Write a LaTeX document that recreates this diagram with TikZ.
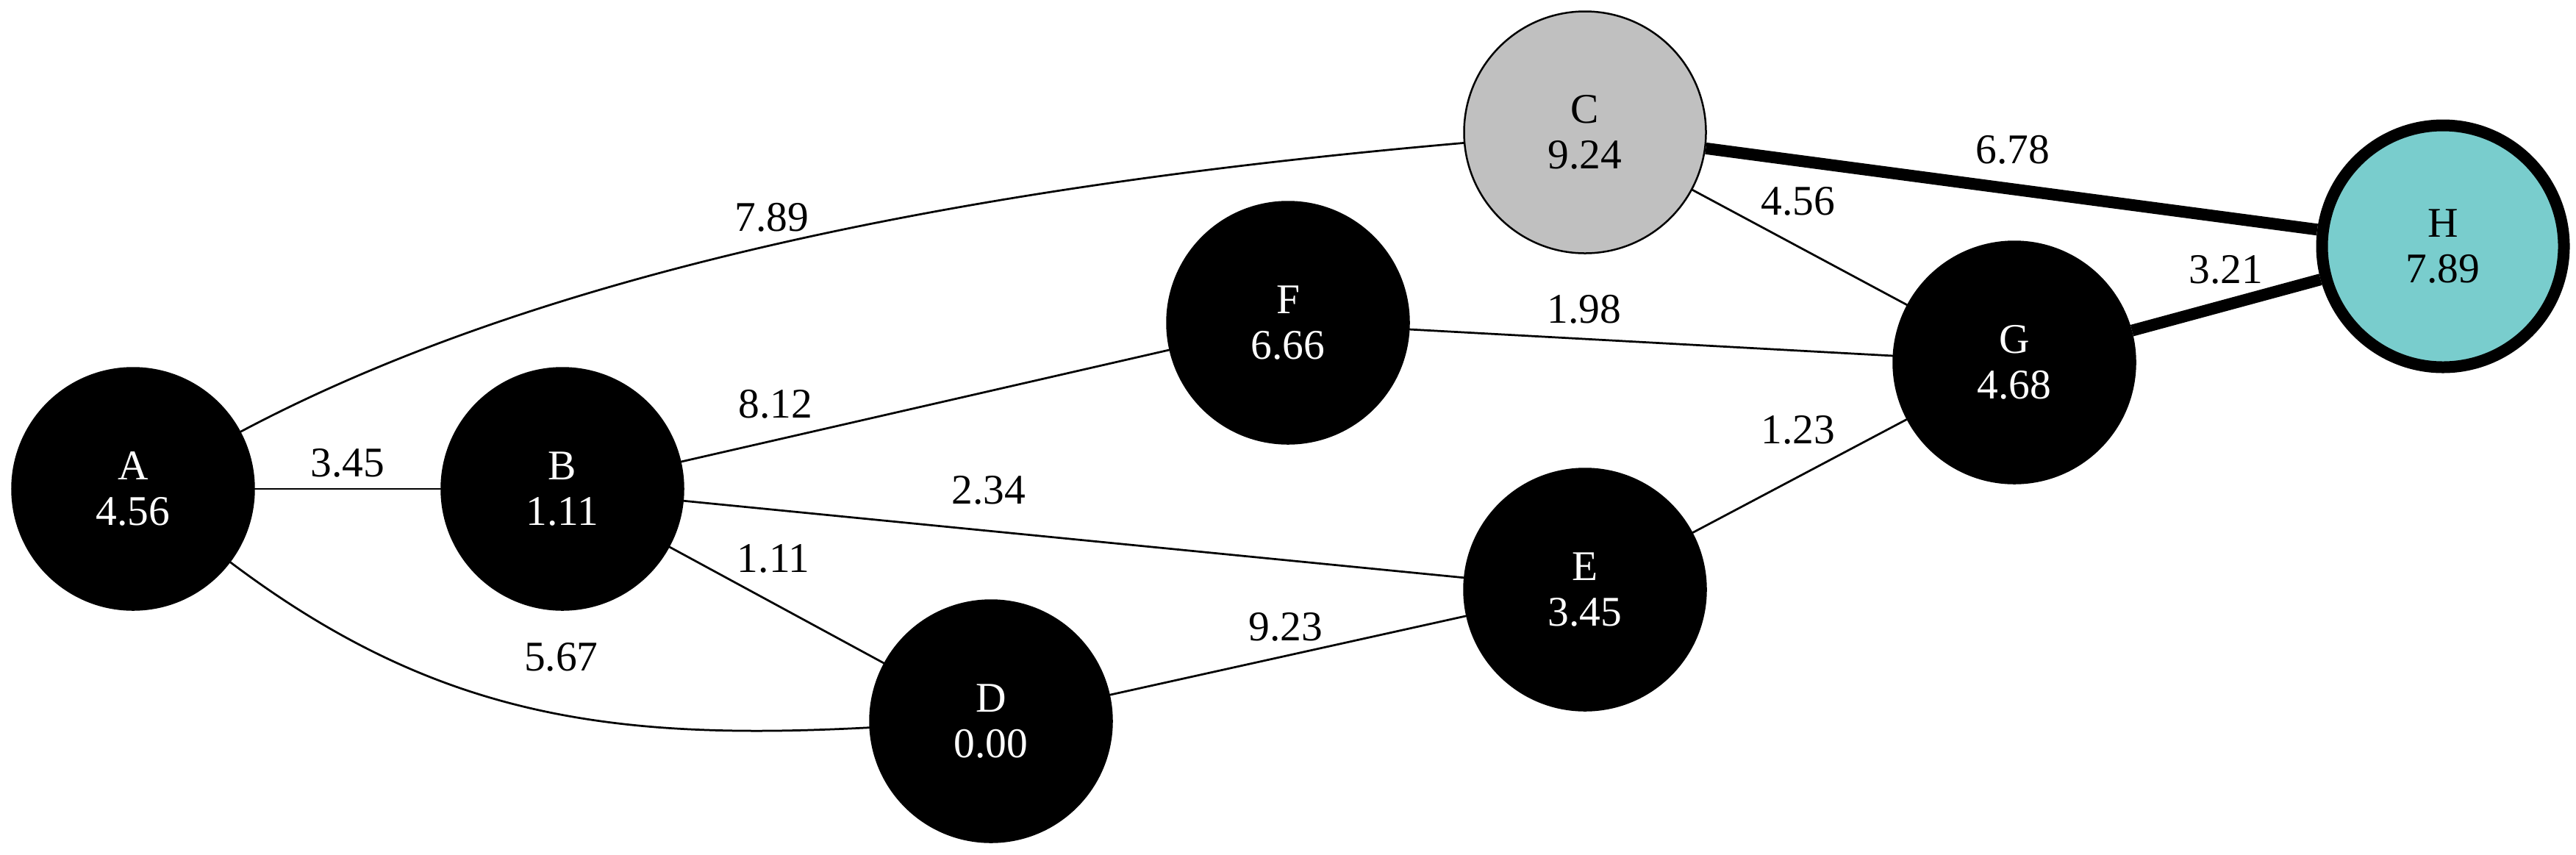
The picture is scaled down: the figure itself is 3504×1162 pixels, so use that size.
\documentclass[tikz,border=0pt]{standalone}
\usepackage{fontspec}
\setmainfont{Liberation Serif}
\usepackage{tikz}
\definecolor{cccccc}{rgb}{0.753,0.753,0.753}
\definecolor{qqcccc}{rgb}{0.475,0.804,0.804}
\tikzset{
  vertex/.style={circle,draw=black,line width=0.5pt,minimum size=65.8pt,inner sep=0pt,align=center,font=\fontsize{11.5}{12.4}\selectfont},
  blackvertex/.style={vertex,fill=black,text=white},
  grayvertex/.style={vertex,fill=cccccc},
  goalvertex/.style={vertex,fill=qqcccc,line width=3.2pt},
  edge/.style={line width=0.55pt},
  heavyedge/.style={line width=3.2pt,line cap=butt},
  weight/.style={font=\fontsize{11.5}{12.4}\selectfont,inner sep=0pt}
}
\begin{document}
\begin{tikzpicture}[line cap=round,line join=round,x=0.2pt,y=-0.2pt]
		\useasboundingbox (0,0) rectangle (3504,1162);
		\node[blackvertex] (A) at (181,665) {A\\4.56};
		\node[blackvertex] (B) at (765,665) {B\\1.11};
		\node[grayvertex] (C) at (2156,180) {C\\9.24};
		\node[blackvertex] (D) at (1348,981) {D\\0.00};
		\node[blackvertex] (E) at (2156,802) {E\\3.45};
		\node[blackvertex] (F) at (1752,439) {F\\6.66};
		\node[blackvertex] (G) at (2740,493) {G\\4.68};
		\node[goalvertex] (H) at (3323,335) {H\\7.89};
		\draw [edge] (A) -- node[weight,pos=0.5,yshift=7pt] {3.45} (B);
		\draw [edge] (A) to[out=28,in=185,looseness=0.8] node[weight,pos=0.45,yshift=7.6pt] {7.89} (C);
		\draw [edge] (A) to[out=-37,in=183] node[weight,pos=0.55,yshift=15.7pt] {5.67} (D);
		\draw [edge] (B) -- node[weight,pos=0.193,yshift=9.7pt] {8.12} (F);
		\draw [edge] (B) -- node[weight,pos=0.391,yshift=11pt] {2.34} (E);
		\draw [edge] (B) -- node[weight,pos=0.485,yshift=12.1pt] {1.11} (D);
		\draw [edge] (D) -- node[weight,pos=0.494,yshift=7.9pt] {9.23} (E);
		\draw [edge] (C) -- node[weight,pos=0.493,yshift=12.3pt] {4.56} (G);
		\draw [edge] (F) -- node[weight,pos=0.361,yshift=8pt] {1.98} (G);
		\draw [edge] (E) -- node[weight,pos=0.493,yshift=12.7pt] {1.23} (G);
		\draw [heavyedge] (C) -- node[weight,pos=0.502,yshift=10.7pt] {6.78} (H);
		\draw [heavyedge] (G) -- node[weight,pos=0.498,yshift=9.6pt] {3.21} (H);
\end{tikzpicture}
\end{document}
